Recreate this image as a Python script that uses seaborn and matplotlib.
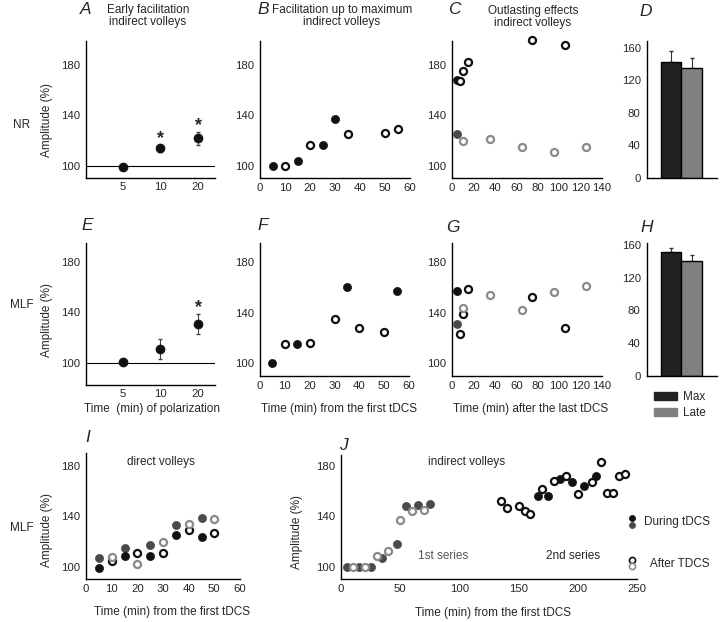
import numpy as np
import matplotlib
matplotlib.use("Agg")
import matplotlib.pyplot as plt
import seaborn as sns
from matplotlib.lines import Line2D
from matplotlib.patches import Patch
from matplotlib.legend_handler import HandlerBase

sns.set_theme(style="white")
plt.rcParams["font.family"] = ["Liberation Sans Narrow", "Liberation Sans", "DejaVu Sans"]

W, H = 720, 622

# ---- data ----
# A / E: early facilitation (categorical minutes)
early_t = ["5", "10", "20"]
a_mean = [99, 114, 122]
a_err = [1.5, 3, 5]
a_star = [False, True, True]
e_mean = [101, 111, 131]
e_err = [2, 8, 8]
e_star = [False, False, True]

# B: facilitation up to maximum (NR)
b_fill_t = [5, 15, 25, 30]
b_fill_v = [100, 104, 117, 137]
b_open_t = [10, 20, 35, 50, 55]
b_open_v = [100, 117, 125, 126, 129]

# C: outlasting effects (NR)
c_black_t = [5]
c_black_v = [168]
c_dgray_t = [5]
c_dgray_v = [125]
c_openk_t = [7, 10, 15, 75, 105]
c_openk_v = [167, 175, 182, 200, 196]
c_openg_t = [10, 35, 65, 95, 125]
c_openg_v = [120, 121, 115, 111, 115]

# D / H: bars
bar_cats = ["Max", "Late"]
d_vals = [143, 135]
d_err = [13, 13]
h_vals = [151, 141]
h_err = [5, 7]

# F: facilitation up to maximum (MLF)
f_fill_t = [5, 15, 35, 55]
f_fill_v = [100, 115, 160, 157]
f_open_t = [10, 20, 30, 40, 50]
f_open_v = [115, 116, 135, 128, 125]

# G: outlasting effects (MLF)
g_black_t = [5]
g_black_v = [157]
g_dgray_t = [5]
g_dgray_v = [131]
g_openk_t = [7, 10, 15, 75, 105]
g_openk_v = [123, 139, 159, 152, 128]
g_openg_t = [10, 35, 65, 95, 125]
g_openg_v = [144, 154, 142, 156, 161]

# I: direct volleys (MLF)
i_dgray_t = [5, 15, 25, 35, 45]
i_dgray_v = [107, 115, 117, 133, 139]
i_black_t = [5, 15, 25, 35, 45]
i_black_v = [99, 109, 109, 125, 124]
i_openk_t = [10, 20, 30, 40, 50]
i_openk_v = [105, 111, 111, 129, 127]
i_openg_t = [10, 20, 30, 40, 50]
i_openg_v = [108, 102, 120, 134, 138]

# J: indirect volleys, two series
j1_fill_t = [5, 15, 25, 35, 47, 55, 65, 75]
j1_fill_v = [100, 100, 100, 107, 118, 148, 149, 150]
j1_open_t = [10, 20, 30, 40, 50, 60, 70]
j1_open_v = [100, 100, 109, 113, 137, 144, 145]
j2_fill_t = [166, 175, 185, 195, 205, 215]
j2_fill_v = [156, 156, 170, 167, 164, 172]
j2_open_t = [135, 140, 150, 155, 160, 170, 180, 190, 200, 212, 220, 225, 230, 235, 240]
j2_open_v = [152, 147, 148, 144, 142, 162, 168, 172, 158, 167, 183, 159, 159, 172, 174]

BLACK = "#111111"
DGRAY = "#4a4a4a"
LGRAY = "#8a8a8a"
BAR_BLACK = "#222222"
BAR_GRAY = "#808080"
MS = 34
MS_OPEN = 26
TICK_FS = 8.2
LABEL_FS = 8.5


def box(x0, y0, x1, y1):
    return [x0 / W, 1 - y1 / H, (x1 - x0) / W, (y1 - y0) / H]


def ftext(fig, x, y, s, **kw):
    kw.setdefault("ha", "center")
    kw.setdefault("va", "center")
    fig.text(x / W, 1 - y / H, s, **kw)


def style(ax, ylim, yticks, xticks=None, xlim=None):
    sns.despine(ax=ax)
    for sp in ["left", "bottom"]:
        ax.spines[sp].set_color("black")
        ax.spines[sp].set_linewidth(1.0)
    ax.set_ylim(*ylim)
    ax.set_yticks(yticks)
    if xlim is not None:
        ax.set_xlim(*xlim)
    if xticks is not None:
        ax.set_xticks(xticks)
    ax.tick_params(axis="y", length=3, width=0.8, pad=1.5, labelsize=TICK_FS, color="black")
    ax.tick_params(axis="x", length=2, width=0.8, pad=1.5, labelsize=TICK_FS, color="black")
    ax.set_xlabel("")
    ax.set_ylabel("")
    ax.patch.set_alpha(0)


def filled(ax, t, v, color, s=MS):
    sns.scatterplot(x=t, y=v, ax=ax, color=color, s=s, edgecolor=color,
                    linewidth=0.5, clip_on=False, zorder=3)


def hollow(ax, t, v, color, s=MS_OPEN):
    sns.scatterplot(x=t, y=v, ax=ax, s=s, facecolor="white", edgecolor=color,
                    linewidth=1.6, clip_on=False, zorder=3)


def early(ax, means, errs, stars, ylim):
    ax.axhline(100, color="black", lw=0.8, zorder=1)
    ax.errorbar(early_t, means, yerr=errs, fmt="none", ecolor="#444444",
                elinewidth=0.8, capsize=1.5, zorder=2)
    sns.scatterplot(x=early_t, y=means, ax=ax, color=BLACK, s=42,
                    edgecolor=BLACK, zorder=3)
    for t, m, e, st in zip(early_t, means, errs, stars):
        if st:
            ax.text(t, m + e + 5, "*", ha="center", va="center", fontsize=13,
                    fontweight="bold")
    style(ax, ylim, [100, 140, 180])
    ax.set_xlim(-0.98, 2.45)
    ax.tick_params(axis="x", length=0, pad=3)


def bars(ax, vals, errs, ylim):
    sns.barplot(x=bar_cats, y=vals, ax=ax, hue=bar_cats,
                palette=[BAR_BLACK, BAR_GRAY], width=1.0, edgecolor="black",
                linewidth=1.0, legend=False, zorder=2)
    ax.errorbar(bar_cats, vals, yerr=[np.zeros(len(errs)), errs], fmt="none",
                ecolor="#333333", elinewidth=0.8, capsize=1.5, zorder=1)
    style(ax, ylim, [0, 40, 80, 120, 160])
    ax.set_xlim(-1.2, 2.25)
    ax.set_xticks([])


class HandlerStack(HandlerBase):
    def create_artists(self, legend, orig_handle, xdescent, ydescent,
                       width, height, fontsize, trans):
        arts = []
        for i, h in enumerate(orig_handle):
            y = -ydescent + height / 2 + (0.5 - i) * 4.5
            ln = Line2D([-xdescent + width / 2], [y], marker="o", linestyle="",
                        markersize=h.get_markersize(),
                        markerfacecolor=h.get_markerfacecolor(),
                        markeredgecolor=h.get_markeredgecolor(),
                        markeredgewidth=h.get_markeredgewidth())
            ln.set_transform(trans)
            arts.append(ln)
        return arts


fig = plt.figure(figsize=(W / 100, H / 100), dpi=100)

# Row 1 (NR)
axA = fig.add_axes(box(86, 41, 215, 178))
early(axA, a_mean, a_err, a_star, (90.5, 199))

axB = fig.add_axes(box(260, 41, 410, 178))
filled(axB, b_fill_t, b_fill_v, BLACK)
hollow(axB, b_open_t, b_open_v, BLACK)
style(axB, (90.5, 199), [100, 140, 180], range(0, 61, 10), (0, 60))

axC = fig.add_axes(box(452, 41, 602, 178))
filled(axC, c_black_t, c_black_v, BLACK)
filled(axC, c_dgray_t, c_dgray_v, DGRAY)
hollow(axC, c_openk_t, c_openk_v, BLACK)
hollow(axC, c_openg_t, c_openg_v, LGRAY)
style(axC, (90.5, 199), [100, 140, 180], range(0, 141, 20), (0, 140))

axD = fig.add_axes(box(647, 41, 717, 178))
bars(axD, d_vals, d_err, (0, 168.6))

# Row 2 (MLF)
axE = fig.add_axes(box(86, 243, 215, 385))
early(axE, e_mean, e_err, e_star, (82.6, 195))

axF = fig.add_axes(box(260, 243, 409, 376))
filled(axF, f_fill_t, f_fill_v, BLACK)
hollow(axF, f_open_t, f_open_v, BLACK)
style(axF, (90, 195), [100, 140, 180], range(0, 61, 10), (0, 60))

axG = fig.add_axes(box(452, 243, 602, 376))
filled(axG, g_black_t, g_black_v, BLACK)
filled(axG, g_dgray_t, g_dgray_v, DGRAY)
hollow(axG, g_openk_t, g_openk_v, BLACK)
hollow(axG, g_openg_t, g_openg_v, LGRAY)
style(axG, (90, 195), [100, 140, 180], range(0, 141, 20), (0, 140))

axH = fig.add_axes(box(647, 243, 717, 376))
bars(axH, h_vals, h_err, (0, 162.4))
fig.legend(handles=[Patch(facecolor=BAR_BLACK, edgecolor=BAR_BLACK),
                    Patch(facecolor=BAR_GRAY, edgecolor=BAR_GRAY)],
           labels=bar_cats, loc="upper left",
           bbox_to_anchor=(646 / W, 1 - 383 / H), frameon=False,
           fontsize=LABEL_FS, handlelength=1.9, handleheight=0.6,
           handletextpad=0.5, labelspacing=0.35, borderpad=0.2)

# Row 3 (MLF)
axI = fig.add_axes(box(86, 453, 240, 579))
filled(axI, i_dgray_t, i_dgray_v, DGRAY)
filled(axI, i_black_t, i_black_v, BLACK)
hollow(axI, i_openk_t, i_openk_v, BLACK)
hollow(axI, i_openg_t, i_openg_v, LGRAY)
style(axI, (90.5, 190), [100, 140, 180], range(0, 61, 10), (0, 60))

axJ = fig.add_axes(box(341, 455, 637, 579))
filled(axJ, j1_fill_t, j1_fill_v, DGRAY)
hollow(axJ, j1_open_t, j1_open_v, LGRAY)
filled(axJ, j2_fill_t, j2_fill_v, BLACK)
hollow(axJ, j2_open_t, j2_open_v, BLACK)
style(axJ, (90.5, 188.7), [100, 140, 180], [0, 50, 100, 150, 200, 250], (0, 250))

dot = dict(marker="o", linestyle="", markersize=4.4)
during = (Line2D([], [], markerfacecolor=BLACK, markeredgecolor=BLACK, markeredgewidth=0.5, **dot),
          Line2D([], [], markerfacecolor=DGRAY, markeredgecolor=DGRAY, markeredgewidth=0.5, **dot))
after = (Line2D([], [], markerfacecolor="white", markeredgecolor=BLACK, markeredgewidth=1.2, **dot),
         Line2D([], [], markerfacecolor="white", markeredgecolor=LGRAY, markeredgewidth=1.2, **dot))
fig.legend(handles=[during, after], labels=["During tDCS", "  After TDCS"],
           handler_map={tuple: HandlerStack()}, loc="upper left",
           bbox_to_anchor=(617 / W, 1 - 506 / H), frameon=False,
           fontsize=LABEL_FS, handlelength=1.2, handleheight=1.5,
           handletextpad=0.4, labelspacing=2.3, borderpad=0.2)

# panel letters
for letter, x, y in [("A", 86, 9), ("B", 263, 9), ("C", 454, 9), ("D", 646, 11),
                     ("E", 87, 226), ("F", 263, 226), ("G", 453, 227), ("H", 647, 227),
                     ("I", 88, 438), ("J", 343, 445)]:
    ftext(fig, x, y, letter, fontsize=12.5, style="italic",
          family=["Liberation Sans", "DejaVu Sans"])

# panel titles
ftext(fig, 148, 16, "Early facilitation\nindirect volleys", fontsize=LABEL_FS,
      linespacing=1.0)
ftext(fig, 342, 16, "Facilitation up to maximum\nindirect volleys", fontsize=LABEL_FS,
      linespacing=1.0)
ftext(fig, 533, 17, "Outlasting effects\nindirect volleys", fontsize=LABEL_FS,
      linespacing=1.0)

# axis labels
for y in [120, 320]:
    ftext(fig, 47, y, "Amplitude (%)", fontsize=LABEL_FS, rotation=90)
ftext(fig, 47, 530, "Amplitude (%)", fontsize=LABEL_FS, rotation=90)
ftext(fig, 297, 532, "Amplitude (%)", fontsize=LABEL_FS, rotation=90)

ftext(fig, 152, 409, "Time  (min) of polarization", fontsize=LABEL_FS)
ftext(fig, 339, 409, "Time (min) from the first tDCS", fontsize=LABEL_FS)
ftext(fig, 531, 409, "Time (min) after the last tDCS", fontsize=LABEL_FS)
ftext(fig, 172, 612, "Time (min) from the first tDCS", fontsize=LABEL_FS)
ftext(fig, 493, 613, "Time (min) from the first tDCS", fontsize=LABEL_FS)

# row labels
ftext(fig, 22, 125, "NR", fontsize=LABEL_FS)
ftext(fig, 22, 305, "MLF", fontsize=LABEL_FS)
ftext(fig, 22, 528, "MLF", fontsize=LABEL_FS)

# in-panel annotations
ftext(fig, 161, 462, "direct volleys", fontsize=LABEL_FS)
ftext(fig, 467, 462, "indirect volleys", fontsize=LABEL_FS)
ftext(fig, 443, 556, "1st series", fontsize=LABEL_FS, color="#555555")
ftext(fig, 573, 556, "2nd series", fontsize=LABEL_FS)

fig.savefig("out.png", dpi=100)
